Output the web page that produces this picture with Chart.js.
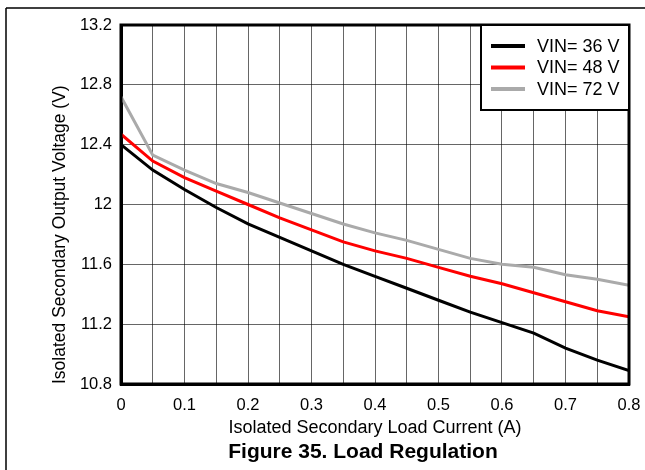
<!DOCTYPE html>
<html>
<head>
<meta charset="utf-8">
<script src="https://cdn.jsdelivr.net/npm/chart.js@4/dist/chart.umd.min.js"></script>
<style>
  html, body { margin: 0; padding: 0; background: #fff; }
  canvas { display: block; }
</style>
</head>
<body>
<canvas id="grafica" width="645" height="470"></canvas>
<script>
// Datos
const corrientes = [0, 0.05, 0.1, 0.15, 0.2, 0.25, 0.3, 0.35, 0.4, 0.45, 0.5, 0.55, 0.6, 0.65, 0.7, 0.75, 0.8];
const vin36 = [12.40, 12.23, 12.10, 11.98, 11.87, 11.78, 11.69, 11.60, 11.52, 11.44, 11.36, 11.28, 11.21, 11.14, 11.04, 10.96, 10.89];
const vin48 = [12.47, 12.29, 12.18, 12.09, 12.00, 11.91, 11.83, 11.75, 11.69, 11.64, 11.58, 11.52, 11.47, 11.41, 11.35, 11.29, 11.25];
const vin72 = [12.72, 12.33, 12.23, 12.14, 12.08, 12.01, 11.94, 11.87, 11.81, 11.76, 11.70, 11.64, 11.60, 11.58, 11.53, 11.50, 11.46];
const etiquetas = ['VIN= 36 V', 'VIN= 48 V', 'VIN= 72 V'];
const colores = ['#000000', '#ff0000', '#aaaaaa'];
const ticksX = ['0', '', '0.1', '', '0.2', '', '0.3', '', '0.4', '', '0.5', '', '0.6', '', '0.7', '', '0.8'];
const ticksY = ['10.8', '11.2', '11.6', '12', '12.4', '12.8', '13.2'];
const tituloFigura = 'Figure 35. Load Regulation';

const fuente = 'Arial, "Liberation Sans", sans-serif';

// Convierte una serie a puntos {x, y}
const aPuntos = (serie) => serie.map((v, i) => ({ x: corrientes[i], y: v }));

// Marco exterior, borde del area, leyenda y titulo de la figura
const marcoPlugin = {
    id: 'marco',
    afterDraw(chart) {
        const ctx = chart.ctx;
        const area = chart.chartArea;
        ctx.save();

        // lineas del marco de la pagina
        ctx.strokeStyle = '#000';
        ctx.lineWidth = 1.5;
        ctx.beginPath();
        ctx.moveTo(6, 8);
        ctx.lineTo(645, 8);
        ctx.moveTo(6, 8);
        ctx.lineTo(6, 470);
        ctx.stroke();

        // borde grueso del area de datos
        ctx.lineWidth = 3;
        ctx.strokeRect(area.left, area.top, area.right - area.left, area.bottom - area.top);

        // leyenda con caja
        const ancho = 148, alto = 85;
        const x0 = area.right - ancho, y0 = area.top;
        ctx.fillStyle = '#fff';
        ctx.fillRect(x0, y0, ancho, alto);
        ctx.lineWidth = 2;
        ctx.strokeRect(x0, y0, ancho, alto);

        ctx.font = '18px ' + fuente;
        ctx.textBaseline = 'middle';
        ctx.textAlign = 'left';
        chart.data.datasets.forEach((ds, i) => {
            const y = y0 + 21 + i * 21.5;
            ctx.strokeStyle = ds.borderColor;
            ctx.lineWidth = 4;
            ctx.beginPath();
            ctx.moveTo(x0 + 10, y);
            ctx.lineTo(x0 + 44, y);
            ctx.stroke();
            ctx.fillStyle = '#000';
            ctx.fillText(ds.label, x0 + 56, y + 1);
        });

        // titulo de la figura
        ctx.font = 'bold 21px ' + fuente;
        ctx.textAlign = 'center';
        ctx.fillText(tituloFigura, 363, 452);
        ctx.restore();
    }
};

const ctx = document.getElementById('grafica').getContext('2d');
new Chart(ctx, {
    type: 'line',
    data: {
        datasets: [vin36, vin48, vin72].map((serie, i) => ({
            label: etiquetas[i],
            data: aPuntos(serie),
            borderColor: colores[i],
            backgroundColor: colores[i],
            borderWidth: 3,
            pointRadius: 0,
            tension: 0,
            fill: false
        }))
    },
    options: {
        responsive: false,
        animation: false,
        devicePixelRatio: 1,
        layout: { padding: { left: 45, top: 25, right: 16, bottom: 30 } },
        plugins: {
            legend: { display: false },
            tooltip: { enabled: false }
        },
        scales: {
            x: {
                type: 'linear',
                min: 0,
                max: 0.8,
                afterFit: (scale) => {
                    scale.height = 56;
                    scale.paddingLeft = 0;
                    scale.paddingRight = 0;
                },
                ticks: {
                    stepSize: 0.05,
                    autoSkip: false,
                    maxRotation: 0,
                    padding: 12,
                    color: '#000',
                    font: { family: fuente, size: 16.5 },
                    callback: (value, index) => ticksX[index]
                },
                grid: { color: 'rgba(0,0,0,0.6)', lineWidth: 1, drawTicks: false },
                border: { color: '#000', width: 3 },
                title: {
                    display: true,
                    text: 'Isolated Secondary Load Current (A)',
                    color: '#000',
                    font: { family: fuente, size: 18 },
                    padding: { top: 0, bottom: 1 }
                }
            },
            y: {
                min: 10.8,
                max: 13.2,
                afterFit: (scale) => { scale.width = 76; },
                ticks: {
                    stepSize: 0.4,
                    padding: 9,
                    color: '#000',
                    font: { family: fuente, size: 16.5 },
                    callback: (value, index) => ticksY[index]
                },
                grid: { color: 'rgba(0,0,0,0.6)', lineWidth: 1, drawTicks: false },
                border: { color: '#000', width: 3 },
                title: {
                    display: true,
                    align: 'start',
                    text: 'Isolated Secondary Output Voltage (V)',
                    color: '#000',
                    font: { family: fuente, size: 17.5 },
                    padding: { top: 5, bottom: 0 }
                }
            }
        }
    },
    plugins: [marcoPlugin]
});
</script>
</body>
</html>
